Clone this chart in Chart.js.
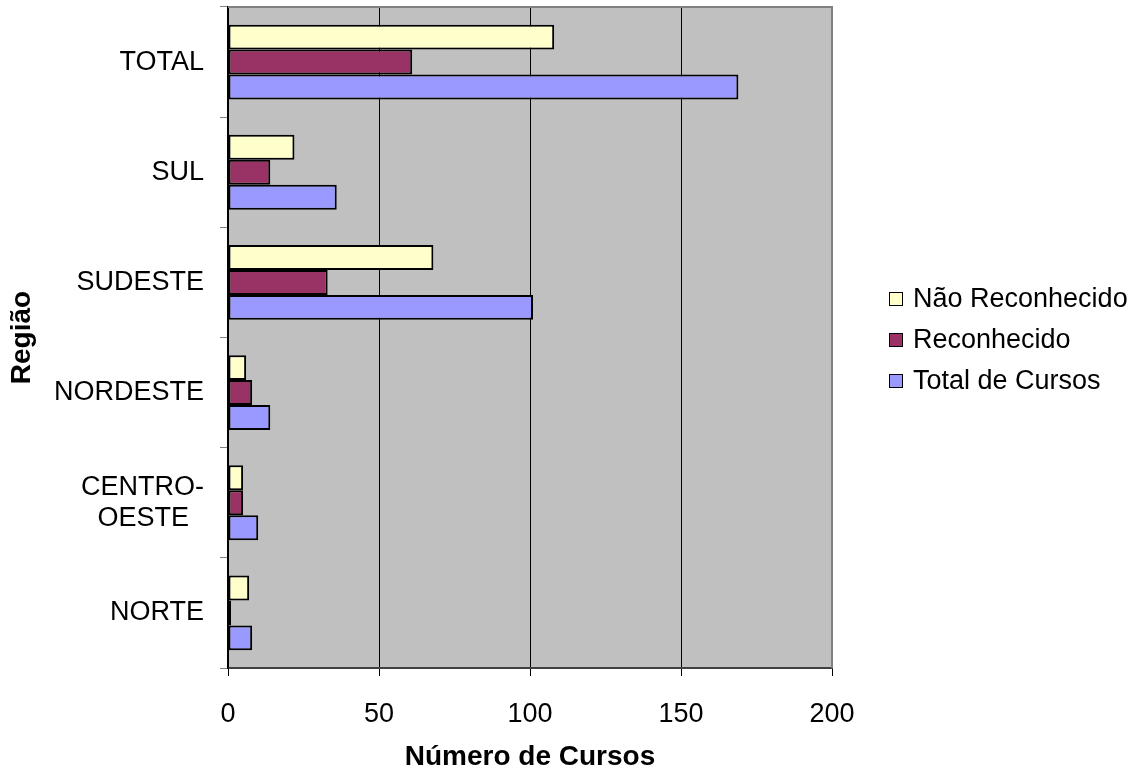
<!DOCTYPE html>
<html>
<head>
<meta charset="utf-8">
<script src="https://cdn.jsdelivr.net/npm/chart.js@4.4.1/dist/chart.umd.min.js"></script>
<style>
  html, body { margin: 0; padding: 0; background: #fff; }
  #wrap { position: relative; width: 1135px; height: 769px; }
  #legend {
    position: absolute; left: 889px; top: 278px;
    font-family: "Liberation Sans", Arial, sans-serif;
    font-size: 27px; color: #000; line-height: 41px;
  }
  #legend .item { display: flex; align-items: center; white-space: nowrap; }
  #legend .box { width: 12px; height: 12px; border: 1.5px solid #000; margin-right: 10px; }
</style>
</head>
<body>
<div id="wrap">
  <canvas id="chart" width="1135" height="769"></canvas>
  <div id="legend"></div>
</div>
<script>
// categories, top to bottom
const REGIONS = ["TOTAL", "SUL", "SUDESTE", "NORDESTE", ["CENTRO-", "OESTE\u00a0\u00a0"], "NORTE"];
const NAO_RECONHECIDO = [108, 22, 68, 6, 5, 7];
const RECONHECIDO = [61, 14, 33, 8, 5, 1];
const TOTAL_CURSOS = [169, 36, 101, 14, 10, 8];
const X_TICKS = [0, 50, 100, 150, 200];

const SERIES_LABELS = ["Não Reconhecido", "Reconhecido", "Total de Cursos"];
const SERIES_COLORS = ["#ffffcc", "#993366", "#9999ff"];

const FONT = "'Liberation Sans', Arial, sans-serif";

const plotBg = {
  id: "plotBg",
  beforeDraw(chart) {
    const { ctx, chartArea: a } = chart;
    ctx.save();
    ctx.fillStyle = "#c0c0c0";
    ctx.fillRect(a.left, a.top, a.right - a.left, a.bottom - a.top);
    ctx.restore();
  },
  beforeDatasetsDraw(chart) {
    const { ctx, chartArea: a } = chart;
    ctx.save();
    ctx.strokeStyle = "#808080";
    ctx.lineWidth = 2;
    ctx.beginPath();
    ctx.moveTo(a.left, a.top);
    ctx.lineTo(a.right, a.top);
    ctx.lineTo(a.right, a.bottom);
    ctx.stroke();
    ctx.restore();
  },
};

const seriesData = [NAO_RECONHECIDO, RECONHECIDO, TOTAL_CURSOS];

new Chart(document.getElementById("chart"), {
  type: "bar",
  data: {
    labels: REGIONS,
    datasets: seriesData.map((d, i) => ({
      label: SERIES_LABELS[i],
      data: d,
      backgroundColor: SERIES_COLORS[i],
      borderColor: "#000",
      borderWidth: 2,
      borderSkipped: false,
      categoryPercentage: 0.68,
      barPercentage: 1,
    })),
  },
  options: {
    indexAxis: "y",
    responsive: false,
    animation: false,
    layout: { padding: { top: 7, right: 303, bottom: 0, left: 0 } },
    plugins: { legend: { display: false }, tooltip: { enabled: false } },
    scales: {
      x: {
        min: 0,
        max: 200,
        afterBuildTicks(scale) {
          scale.ticks = X_TICKS.map((v) => ({ value: v }));
        },
        afterFit(scale) {
          scale.height = 101;
          scale.paddingLeft = 0;
          scale.paddingRight = 0;
        },
        grid: {
          color: (c) => (c.tick && c.tick.value === 200 ? "#808080" : "#000"),
          lineWidth: 1,
          drawTicks: true,
          tickLength: 8,
          tickColor: "#000",
        },
        border: { color: "#404040", width: 2 },
        ticks: { color: "#000", font: { family: FONT, size: 27 }, padding: 22 },
        title: {
          display: true,
          text: "Número de Cursos",
          color: "#000",
          font: { family: FONT, size: 28, weight: "bold", lineHeight: 0.85 },
          padding: { top: 0, bottom: 0 },
        },
      },
      y: {
        afterFit(scale) {
          scale.width = 228;
          scale.paddingTop = 0;
          scale.paddingBottom = 0;
        },
        grid: {
          drawOnChartArea: false,
          drawTicks: true,
          tickLength: 8,
          tickColor: "#808080",
          offset: true,
        },
        border: { color: "#000", width: 1.5 },
        ticks: { color: "#000", font: { family: FONT, size: 27, lineHeight: 1.15 }, padding: 16 },
        title: {
          display: true,
          text: "Região",
          color: "#000",
          font: { family: FONT, size: 28, weight: "bold" },
          padding: 5,
        },
      },
    },
  },
  plugins: [plotBg],
});

const legend = document.getElementById("legend");
SERIES_LABELS.forEach((name, i) => {
  const item = document.createElement("div");
  item.className = "item";
  item.innerHTML = `<span class="box" style="background:${SERIES_COLORS[i]}"></span><span>${name}</span>`;
  legend.appendChild(item);
});
</script>
</body>
</html>
